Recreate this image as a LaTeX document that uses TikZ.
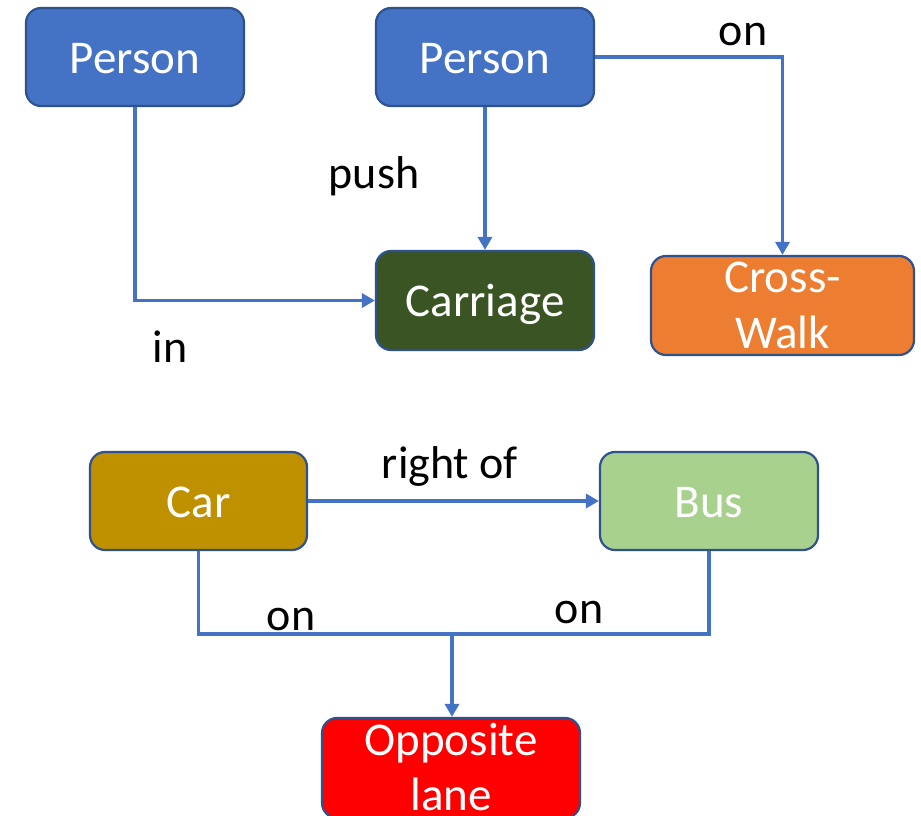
\documentclass[tikz,border=0pt]{standalone}
\usepackage{fontspec}
\setmainfont{Carlito}
\usetikzlibrary{arrows.meta}
\definecolor{pblue}{HTML}{4472C4}
\definecolor{bord}{HTML}{2F528F}
\definecolor{cgreen}{HTML}{3A5424}
\definecolor{corange}{HTML}{ED7D31}
\definecolor{cgold}{HTML}{BF9000}
\definecolor{clgreen}{HTML}{A9D18E}
\definecolor{cred}{HTML}{FF0000}
\tikzset{
  box/.style={draw=bord, line width=2.2pt, rounded corners=15pt, inner sep=0pt,
    minimum height=98pt, text=white, text height=32pt, text depth=0pt,
    font=\fontsize{47}{56}\selectfont},
  boxtxt/.style={text=white, anchor=base, inner sep=0pt, font=\fontsize{47}{56}\selectfont},
  lbl/.style={text=black, anchor=base, inner sep=0pt, font=\fontsize{46}{56}\selectfont},
  conn/.style={draw=pblue, line width=3.3pt},
  arr/.style={conn, -{Triangle[length=13pt,width=14pt]}}
}
\begin{document}
\begin{tikzpicture}[x=1pt,y=-1pt]
\clip (0,0) rectangle (921,815);
\fill[white] (0,0) rectangle (921,815);
% nodes
\node[box, fill=pblue, minimum width=218pt] (p1) at (135,57) {Person};
\node[box, fill=pblue, minimum width=218pt] (p2) at (485,57) {Person};
\node[box, fill=cgreen, minimum width=218pt, minimum height=99pt] (car) at (485,300.5) {Carriage};
\node[box, fill=corange, minimum width=263pt, minimum height=99pt] (cw) at (782.5,305.5) {};
\node[boxtxt] (cwa) at (782.5,292) {Cross-};
\node[boxtxt] (cwb) at (782.5,348) {Walk};
\node[box, fill=cgold, minimum width=217pt] (cr) at (198.5,501) {Car};
\node[box, fill=clgreen, minimum width=218pt] (bus) at (709,501) {Bus};
\node[box, fill=cred, minimum width=258pt, minimum height=100pt] (opp) at (451,768) {};
\node[boxtxt] (oppa) at (451,755) {Opposite};
\node[boxtxt] (oppb) at (451,810) {lane};
% connectors
\draw[arr] (p1.south) |- (car.west);
\draw[arr] (p2.south) -- (car.north);
\draw[arr] (p2.east) -| (cw.north);
\draw[arr] (cr.east) -- (bus.west);
\coordinate (j) at (452,634);
\draw[conn] (cr.south) |- (j);
\draw[conn] (bus.south) |- (j);
\draw[arr] (j) -- (opp.north -| j);
% labels
\node[lbl] (lon1) at (743,45) {on};
\node[lbl] (lpush) at (374,188) {push};
\node[lbl] (lin) at (170,362) {in};
\node[lbl] (lright) at (450,478) {right of};
\node[lbl] (lon2) at (291,630) {on};
\node[lbl] (lon3) at (579,623) {on};
\end{tikzpicture}
\end{document}
